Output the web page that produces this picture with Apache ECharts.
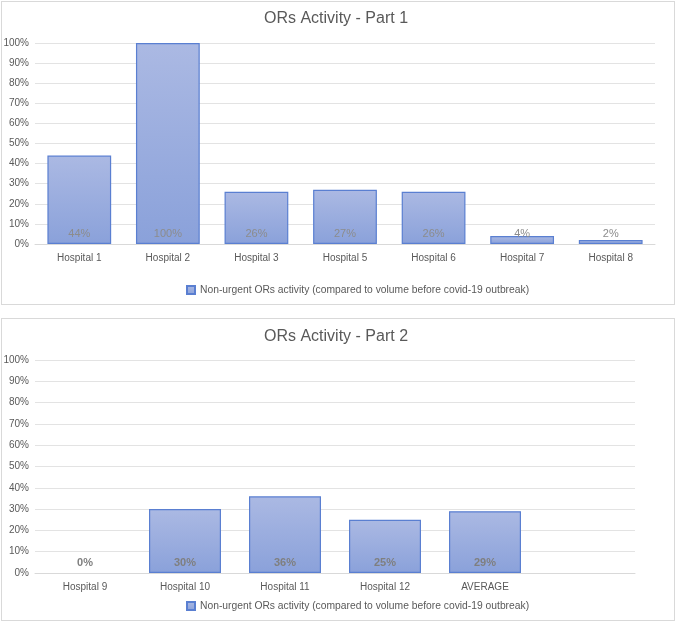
<!DOCTYPE html>
<html>
<head>
<meta charset="utf-8">
<script src="https://cdn.jsdelivr.net/npm/echarts@6/dist/echarts.min.js"></script>
<style>
  body { margin: 0; background: #fff; }
  .panel { position: absolute; left: 1px; width: 674px; border: 1px solid #d9d9d9; box-sizing: border-box; }
  .chart { width: 100%; height: 100%; }
</style>
</head>
<body>
<div class="panel" style="top:1px;height:304px;"><div id="c1" class="chart"></div></div>
<div class="panel" style="top:318px;height:303px;"><div id="c2" class="chart"></div></div>
<script>
const seriesName = 'Non-urgent ORs activity (compared to volume before covid-19 outbreak)'
const part1Categories = ['Hospital 1', 'Hospital 2', 'Hospital 3', 'Hospital 5', 'Hospital 6', 'Hospital 7', 'Hospital 8']
const part1Values = [44, 100, 26, 27, 26, 4, 2]
const part2Categories = ['Hospital 9', 'Hospital 10', 'Hospital 11', 'Hospital 12', 'AVERAGE', '']
const part2Values = [0, 30, 36, 25, 29, null]

const FONT = '"Liberation Sans", Arial, sans-serif'

// zero-height bars get no outline (the reference shows nothing for Hospital 9)
const toBarData = values => values.map(v => (v === 0 ? { value: v, itemStyle: { borderWidth: 0 } } : v))

const buildOption = (title, categories, values, opts) => ({
  animation: false,
  title: {
    text: title,
    left: 257,
    top: opts.titleTop,
    textStyle: { color: '#595959', fontSize: 16, fontWeight: 'normal', fontFamily: FONT },
  },
  legend: {
    data: [seriesName],
    left: opts.legendLeft,
    top: opts.legendTop,
    itemWidth: 8,
    itemHeight: 8,
    itemGap: 4,
    icon: 'rect',
    textStyle: { color: '#595959', fontSize: 10.3, fontFamily: FONT },
  },
  grid: {
    left: 33,
    top: 41,
    width: opts.gridWidth,
    height: opts.gridHeight,
    outerBoundsMode: 'none',
    containLabel: false,
  },
  xAxis: {
    type: 'category',
    data: categories,
    axisLine: { lineStyle: { color: '#d9d9d9' } },
    axisTick: { show: false },
    axisLabel: { color: '#595959', fontSize: 10, fontFamily: FONT, margin: 9, interval: 0 },
  },
  yAxis: {
    type: 'value',
    min: 0,
    max: 100,
    interval: 10,
    axisLine: { show: false },
    axisTick: { show: false },
    axisLabel: { color: '#595959', fontSize: 10, fontFamily: FONT, margin: 6, formatter: '{value}%' },
    splitLine: { lineStyle: { color: '#e3e3e3' } },
  },
  series: [
    {
      name: seriesName,
      type: 'bar',
      barWidth: '72%',
      data: toBarData(values),
      itemStyle: {
        borderColor: '#5a7fd1',
        borderWidth: 1.2,
        color: new echarts.graphic.LinearGradient(0, 0, 0, 1, [
          { offset: 0, color: '#abb9e3' },
          { offset: 1, color: '#8aa1da' },
        ]),
      },
      label: {
        show: true,
        position: 'insideBottom',
        distance: 5,
        formatter: '{c}%',
        color: opts.labelColor,
        fontSize: 11,
        fontWeight: opts.labelWeight,
        fontFamily: FONT,
      },
    },
  ],
})

const chart1 = echarts.init(document.getElementById('c1'))
chart1.setOption(buildOption('ORs Activity - Part 1', part1Categories, part1Values, {
  titleTop: 4,
  legendLeft: 179,
  legendTop: 278,
  gridWidth: 620,
  gridHeight: 201,
  labelColor: '#8c8c8c',
  labelWeight: 'normal',
}))

const chart2 = echarts.init(document.getElementById('c2'))
chart2.setOption(buildOption('ORs Activity - Part 2', part2Categories, part2Values, {
  titleTop: 5,
  legendLeft: 179,
  legendTop: 277,
  gridWidth: 600,
  gridHeight: 213,
  labelColor: '#7f7f7f',
  labelWeight: 'bold',
}))
</script>
</body>
</html>
